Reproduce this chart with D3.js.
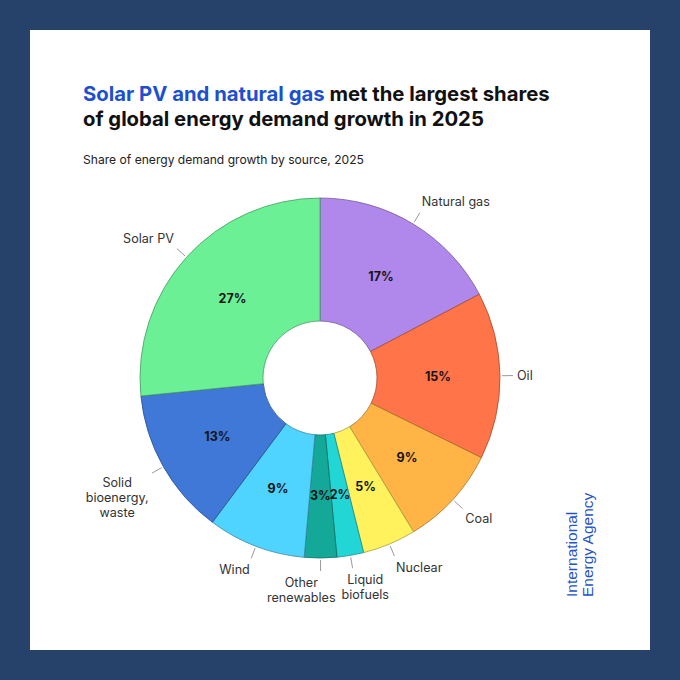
<!DOCTYPE html>
<html><head><meta charset="utf-8">
<script src="https://cdn.jsdelivr.net/npm/d3@7"></script>
<style>html,body{margin:0;padding:0;background:#26416a;}svg{display:block;}</style>
</head><body>
<svg id="chart" width="680" height="680"></svg>
<script>
const categories = ["Natural gas","Oil","Coal","Nuclear","Liquid biofuels","Other renewables","Wind","Solid bioenergy, waste","Solar PV"];
const labelLines = [["Natural gas"],["Oil"],["Coal"],["Nuclear"],["Liquid","biofuels"],["Other","renewables"],["Wind"],["Solid","bioenergy,","waste"],["Solar PV"]];
const shares = [17.3,15.0,9.0,4.8,2.4,2.9,8.8,13.2,26.6];
const colors = ["#b088ec","#ff7448","#ffb445","#fff25c","#22d6d6","#14a898","#4fd3ff","#3f78d6","#6cf096"];
const titleBlue = "Solar PV and natural gas";
const titleRest1 = " met the largest shares";
const titleLine2 = "of global energy demand growth in 2025";
const subtitle = "Share of energy demand growth by source, 2025";
const brand = ["International","Energy Agency"];

const svg = d3.select("#chart");
const W = 680, H = 680;
svg.append("rect").attr("width",W).attr("height",H).attr("fill","#26416a");
svg.append("rect").attr("x",30).attr("y",30).attr("width",620).attr("height",620).attr("fill","#ffffff");

const font = "Inter, 'Noto Sans', sans-serif";
const t1 = svg.append("text").attr("x",83).attr("y",101).attr("font-family",font)
  .attr("font-weight",700).attr("font-size",20.3).attr("fill","#111");
t1.append("tspan").attr("fill","#1d4fd1").text(titleBlue);
t1.append("tspan").text(titleRest1);
svg.append("text").attr("x",83).attr("y",126).attr("font-family",font)
  .attr("font-weight",700).attr("font-size",20.3).attr("fill","#111").text(titleLine2);
svg.append("text").attr("x",83).attr("y",164).attr("font-family",font)
  .attr("font-size",12.1).attr("fill","#222").text(subtitle);

// donut
const cx = 320, cy = 378, rOuter = 180, rInner = 57;
const g = svg.append("g").attr("transform",`translate(${cx},${cy})`);
const data = categories.map((c,i)=>({name:c, value:shares[i], color:colors[i], lines:labelLines[i]}));
const pie = d3.pie().sort(null).value(d=>d.value).startAngle(0).endAngle(2*Math.PI);
const arcs = pie(data);
const arc = d3.arc().innerRadius(rInner).outerRadius(rOuter);
g.selectAll("path.slice").data(arcs).join("path").attr("class","slice")
  .attr("d",arc).attr("fill",d=>d.data.color)
  .attr("stroke",d=>d3.color(d.data.color).darker(1.2)).attr("stroke-width",0.8);

const pctArc = d3.arc().innerRadius(118).outerRadius(118);
g.selectAll("text.pct").data(arcs).join("text").attr("class","pct")
  .attr("transform",d=>`translate(${pctArc.centroid(d)})`)
  .attr("text-anchor","middle").attr("dy","0.35em")
  .attr("font-family",font).attr("font-weight",700).attr("font-size",12.5).attr("fill","#141414")
  .text(d=>d3.format(".0f")(d.data.value)+"%");

// leader lines
const mid = d=>(d.startAngle+d.endAngle)/2;
const pol = (a,r)=>[Math.sin(a)*r, -Math.cos(a)*r];
g.selectAll("line.lead").data(arcs).join("line").attr("class","lead")
  .attr("x1",d=>pol(mid(d),182)[0]).attr("y1",d=>pol(mid(d),182)[1])
  .attr("x2",d=>pol(mid(d),193)[0]).attr("y2",d=>pol(mid(d),193)[1])
  .attr("stroke","#9a9a9a").attr("stroke-width",1);

// external labels
const lh = 15;
const blocks = arcs.map(d=>{
  const a = mid(d);
  const s = Math.sin(a), c = Math.cos(a);
  const q = pol(a,197);
  const grp = g.append("g");
  const widths = d.data.lines.map((ln,i)=>{
    const t = grp.append("text").attr("font-family",font).attr("font-size",12.6).attr("fill","#333")
      .attr("text-anchor","middle").attr("dy","0.35em").text(ln);
    return {t, w:t.node().getComputedTextLength()};
  });
  const w = d3.max(widths,x=>x.w), h = d.data.lines.length*lh;
  const ax = Math.max(0,Math.min(1,0.5-1.5*s));
  const ay = Math.max(0,Math.min(1,0.5+1.5*c));
  return {grp, widths, w, h, left:q[0]-ax*w, top:q[1]-ay*h, s, c};
});
// simple collision avoidance along the bottom
for (let i=1;i<blocks.length;i++){
  const p = blocks[i-1], b = blocks[i];
  const ox = b.left < p.left+p.w && b.left+b.w > p.left;
  const oy = b.top < p.top+p.h && b.top+b.h > p.top;
  if (ox && oy && b.c<0){ b.left = p.left - 6 - b.w; }
}
blocks.forEach(b=>{
  b.widths.forEach((x,i)=>{
    x.t.attr("x", b.left + b.w/2).attr("y", b.top + lh/2 + i*lh);
  });
});

// brand
const bt = svg.append("text").attr("transform","translate(577,597) rotate(-90)")
  .attr("font-family","'Liberation Sans', Arial, sans-serif").attr("font-size",15.5)
  .attr("fill","#2453c9");
brand.forEach((b,i)=>bt.append("tspan").attr("x",0).attr("y",i*16).text(b));
</script>
</body></html>
